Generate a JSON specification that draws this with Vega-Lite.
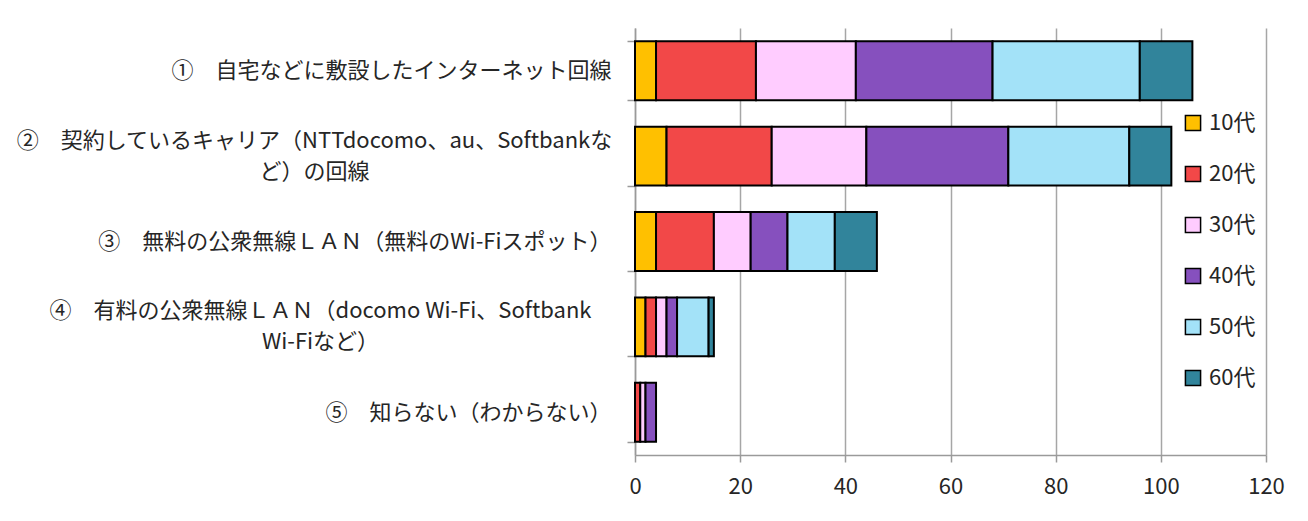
{
  "$schema": "https://vega.github.io/schema/vega-lite/v6.json",
  "width": 631,
  "height": 427,
  "autosize": "none",
  "padding": {"left": 635, "top": 28, "right": 42, "bottom": 66},
  "background": "white",
  "config": {
    "font": "Noto Sans CJK JP",
    "view": {"stroke": null},
    "axis": {"labelFont": "Noto Sans CJK JP", "labelColor": "#262626"},
    "legend": {"labelFont": "Noto Sans CJK JP", "labelColor": "#262626"}
  },
  "data": {
    "values": [
      {"q": "①　自宅などに敷設したインターネット回線", "age": "10代", "n": 4},
      {"q": "①　自宅などに敷設したインターネット回線", "age": "20代", "n": 19},
      {"q": "①　自宅などに敷設したインターネット回線", "age": "30代", "n": 19},
      {"q": "①　自宅などに敷設したインターネット回線", "age": "40代", "n": 26},
      {"q": "①　自宅などに敷設したインターネット回線", "age": "50代", "n": 28},
      {"q": "①　自宅などに敷設したインターネット回線", "age": "60代", "n": 10},
      {"q": "②　契約しているキャリア（NTTdocomo、au、Softbankな\nど）の回線", "age": "10代", "n": 6},
      {"q": "②　契約しているキャリア（NTTdocomo、au、Softbankな\nど）の回線", "age": "20代", "n": 20},
      {"q": "②　契約しているキャリア（NTTdocomo、au、Softbankな\nど）の回線", "age": "30代", "n": 18},
      {"q": "②　契約しているキャリア（NTTdocomo、au、Softbankな\nど）の回線", "age": "40代", "n": 27},
      {"q": "②　契約しているキャリア（NTTdocomo、au、Softbankな\nど）の回線", "age": "50代", "n": 23},
      {"q": "②　契約しているキャリア（NTTdocomo、au、Softbankな\nど）の回線", "age": "60代", "n": 8},
      {"q": "③　無料の公衆無線ＬＡＮ（無料のWi-Fiスポット）", "age": "10代", "n": 4},
      {"q": "③　無料の公衆無線ＬＡＮ（無料のWi-Fiスポット）", "age": "20代", "n": 11},
      {"q": "③　無料の公衆無線ＬＡＮ（無料のWi-Fiスポット）", "age": "30代", "n": 7},
      {"q": "③　無料の公衆無線ＬＡＮ（無料のWi-Fiスポット）", "age": "40代", "n": 7},
      {"q": "③　無料の公衆無線ＬＡＮ（無料のWi-Fiスポット）", "age": "50代", "n": 9},
      {"q": "③　無料の公衆無線ＬＡＮ（無料のWi-Fiスポット）", "age": "60代", "n": 8},
      {"q": "④　有料の公衆無線ＬＡＮ（docomo Wi-Fi、Softbank\nWi-Fiなど）", "age": "10代", "n": 2},
      {"q": "④　有料の公衆無線ＬＡＮ（docomo Wi-Fi、Softbank\nWi-Fiなど）", "age": "20代", "n": 2},
      {"q": "④　有料の公衆無線ＬＡＮ（docomo Wi-Fi、Softbank\nWi-Fiなど）", "age": "30代", "n": 2},
      {"q": "④　有料の公衆無線ＬＡＮ（docomo Wi-Fi、Softbank\nWi-Fiなど）", "age": "40代", "n": 2},
      {"q": "④　有料の公衆無線ＬＡＮ（docomo Wi-Fi、Softbank\nWi-Fiなど）", "age": "50代", "n": 6},
      {"q": "④　有料の公衆無線ＬＡＮ（docomo Wi-Fi、Softbank\nWi-Fiなど）", "age": "60代", "n": 1},
      {"q": "⑤　知らない（わからない）", "age": "20代", "n": 1},
      {"q": "⑤　知らない（わからない）", "age": "30代", "n": 1},
      {"q": "⑤　知らない（わからない）", "age": "40代", "n": 2}
    ]
  },
  "mark": {"type": "bar", "stroke": "black", "strokeWidth": 2},
  "encoding": {
    "y": {
      "field": "q",
      "type": "nominal",
      "sort": null,
      "scale": {"paddingInner": 0.31, "paddingOuter": 0.155},
      "axis": {
        "title": null,
        "labelExpr": "datum.value ? split(datum.value, '\\n') : ''",
        "labelFontSize": 22,
        "labelLineHeight": 31,
        "labelLimit": 700,
        "labelPadding": 16,
        "domainColor": "#9a9a9a",
        "domainWidth": 1.5,
        "tickColor": "#9a9a9a",
        "tickWidth": 1.5,
        "tickSize": 8,
        "tickBand": "extent",
        "grid": false,
        "encoding": {
          "labels": {
            "align": {"condition": {"test": "datum.value && indexof(datum.value, '\\n') >= 0", "value": "center"}, "value": "right"},
            "dx": {"condition": [{"test": "datum.value && indexof(datum.value, '②') === 0", "value": -297}, {"test": "datum.value && indexof(datum.value, '④') === 0", "value": -291}], "value": 0},
            "dy": {"condition": {"test": "datum.value && indexof(datum.value, '\\n') >= 0", "value": -16}, "value": 0}
          }
        }
      }
    },
    "x": {
      "field": "n",
      "type": "quantitative",
      "stack": "zero",
      "scale": {"domain": [0, 120], "nice": false},
      "axis": {
        "title": null,
        "values": [0, 20, 40, 60, 80, 100, 120],
        "labelFontSize": 22,
        "labelPadding": 14,
        "labelFlush": false,
        "domainColor": "#9a9a9a",
        "domainWidth": 1.5,
        "tickColor": "#9a9a9a",
        "tickWidth": 1.5,
        "tickSize": 7,
        "grid": true,
        "gridColor": "#a6a6a6",
        "gridWidth": 1.5
      }
    },
    "color": {
      "field": "age",
      "type": "nominal",
      "scale": {
        "domain": ["10代", "20代", "30代", "40代", "50代", "60代"],
        "range": ["#FFC000", "#F24848", "#FFCCFF", "#8650BE", "#A3E2F8", "#31849B"]
      },
      "legend": {
        "title": null,
        "orient": "none",
        "legendX": 547,
        "legendY": 84,
        "symbolType": "square",
        "symbolSize": 230,
        "symbolStrokeColor": "black",
        "symbolStrokeWidth": 1.5,
        "symbolOpacity": 1,
        "labelFontSize": 22,
        "rowPadding": 29,
        "labelOffset": 5
      }
    },
    "order": {"field": "age"}
  }
}
